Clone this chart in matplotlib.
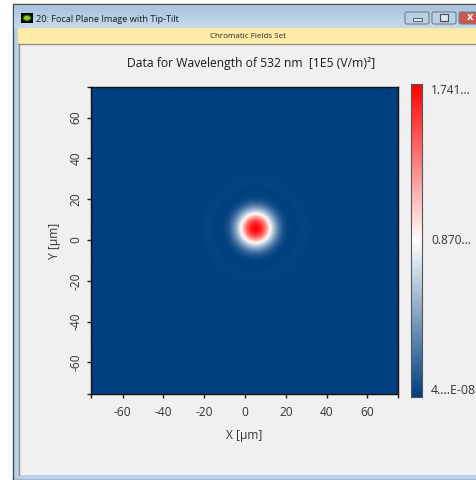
import numpy as np
import matplotlib
matplotlib.use("Agg")
import matplotlib.pyplot as plt
from matplotlib.colors import LinearSegmentedColormap
from matplotlib.patches import Rectangle, FancyBboxPatch

plt.rcParams["font.family"] = ["Open Sans", "DejaVu Sans"]

W, H = 477, 480

window_title = "20: Focal Plane Image with Tip-Tilt"
banner_text = "Chromatic Fields Set"
plot_title = "Data for Wavelength of 532 nm  [1E5 (V/m)²]"
x_label = "X [µm]"
y_label = "Y [µm]"
tick_values = [-60, -40, -20, 0, 20, 40, 60]
cbar_labels = ["1.741...", "0.870...", "4....E-08"]

# spot centre and radial profile
spot_x = 5.0
spot_y = 5.5
radius_um = [0, 2, 4, 5, 6, 7, 8, 9, 10, 11, 12, 13, 14, 16, 18, 20, 23, 26, 29, 32, 36, 40, 80, 120]
intensity = [1.0, 0.96, 0.84, 0.74, 0.63, 0.52, 0.42, 0.33, 0.25, 0.18, 0.12, 0.075, 0.04, 0.01, 0.002,
             0.005, 0.012, 0.008, 0.002, 0.002, 0.004, 0.002, 0.0, 0.0]

cmap = LinearSegmentedColormap.from_list("field", ["#003f80", "#ffffff", "#ff0000"])
icon_cmap = LinearSegmentedColormap.from_list("icon", ["#ff2a00", "#ffd000", "#30c030", "#0a2a10", "#000000"])


def px_axes(fig, left, top, right, bottom):
    return fig.add_axes([left / W, 1 - bottom / H, (right - left) / W, (bottom - top) / H])


fig = plt.figure(figsize=(W / 100, H / 100), dpi=100, facecolor="white")

# window frame drawn in pixel coordinates
chrome = fig.add_axes([0, 0, 1, 1], zorder=0)
chrome.add_patch(Rectangle((13, 4), W - 13, H - 4, fc="#b9d1ea", ec="#4a4a4a", lw=1))
bar = np.linspace(0, 1, 24)[:, None]
bar_cmap = LinearSegmentedColormap.from_list("bar", ["#a9c3dc", "#c6d9ec"])
chrome.imshow(bar, extent=(14, W, 28, 5), cmap=bar_cmap, aspect="auto", zorder=1)
chrome.add_patch(Rectangle((18, 28), W - 18, 16, fc="#ffeba8", ec="none", zorder=2))
chrome.plot([18, W], [44, 44], color="#8f8f8f", lw=1, zorder=3)
chrome.add_patch(Rectangle((19, 45), W - 19, 430, fc="#f0f0f0", ec="none", zorder=2))
chrome.plot([19, 19], [44, 475], color="#8f8f8f", lw=1, zorder=3)
chrome.text(36, 19, window_title, fontsize=6.6, color="#1a1a1a", va="center", ha="left", zorder=4)
chrome.text(248, 36, banner_text, fontsize=5.8, color="#222222", va="center", ha="center", zorder=4)

# title bar icon and buttons
iy, ix = np.mgrid[-1:1:12j, -1:1:12j]
chrome.imshow(np.hypot(ix, iy * 1.2), extent=(21, 33, 23, 13), cmap=icon_cmap, vmin=0, vmax=1.1,
              aspect="auto", zorder=4)
chrome.set_xlim(0, W)
chrome.set_ylim(H, 0)
chrome.axis("off")
for left, right, colour in [(405, 429, "#bcd0e4"), (432, 456, "#bcd0e4"), (459, 482, "#c9584c")]:
    chrome.add_patch(FancyBboxPatch((left, 12), right - left, 12, boxstyle="round,pad=0,rounding_size=2",
                                    fc=colour, ec="#6f7f90", lw=0.8, zorder=4))
chrome.add_patch(Rectangle((413, 18), 9, 3, fc="#dfe7ef", ec="#566270", lw=0.7, zorder=5))
chrome.add_patch(Rectangle((440, 14), 8, 7, fc="#dfe7ef", ec="#3f4b58", lw=0.8, zorder=5))
chrome.text(470, 18, "x", fontsize=8, fontweight="bold", color="white", ha="center", va="center", zorder=5)

chrome.text(251.5, 63, plot_title, fontsize=8.75, color="#1a1a1a", ha="center", va="center", zorder=4)

# main field image, the radial table is looked up on a 0.75 µm pixel grid
ax = px_axes(fig, 91, 87, 398, 394)
ax.set_zorder(2)
gx = np.arange(-75.5, 75.0, 0.75)
gy = np.arange(-75.5, 75.0, 0.75)
xx, yy = np.meshgrid(gx, gy)
rr = np.hypot(xx - spot_x, yy - spot_y)
field = np.interp(rr, radius_um, intensity)
ax.imshow(field, origin="lower", extent=(-75.5, 75.0, -75.5, 75.0), cmap=cmap, vmin=0, vmax=1,
          interpolation="bilinear", aspect="auto")
ax.set_xticks(tick_values)
ax.set_xticklabels([str(v) for v in tick_values])
ax.set_yticks(tick_values)
ax.set_yticklabels([str(v) for v in tick_values], rotation=90, va="center")
ax.set_xticks([-75.5, 75.0], minor=True)
ax.set_yticks([-75.5, 75.0], minor=True)
ax.tick_params(which="both", direction="out", length=3, width=1, color="#222222")
ax.tick_params(which="major", labelsize=8.6, labelcolor="#333333", pad=6)
ax.tick_params(axis="y", which="major", pad=3)
ax.set_xlabel(x_label, fontsize=8.6, color="#333333", labelpad=7)
ax.set_ylabel(y_label, fontsize=8.6, color="#333333", labelpad=6)
for side in ax.spines.values():
    side.set_linewidth(1)
    side.set_color("#111111")

# colour bar
cax = px_axes(fig, 411, 84, 422, 397)
cax.set_zorder(2)
cax.imshow(np.linspace(0, 1, 256)[:, None], origin="lower", aspect="auto", cmap=cmap)
cax.set_xticks([])
cax.set_yticks([])
for side in cax.spines.values():
    side.set_linewidth(0.8)
    side.set_color("#555555")

chrome.text(431, 91, cbar_labels[0], fontsize=8.6, color="#333333", va="center", zorder=4)
chrome.text(431, 241, cbar_labels[1], fontsize=8.6, color="#333333", va="center", zorder=4)
chrome.text(431, 391, cbar_labels[2], fontsize=8.9, color="#333333", va="center", zorder=4)

fig.savefig("out.png", dpi=100)
